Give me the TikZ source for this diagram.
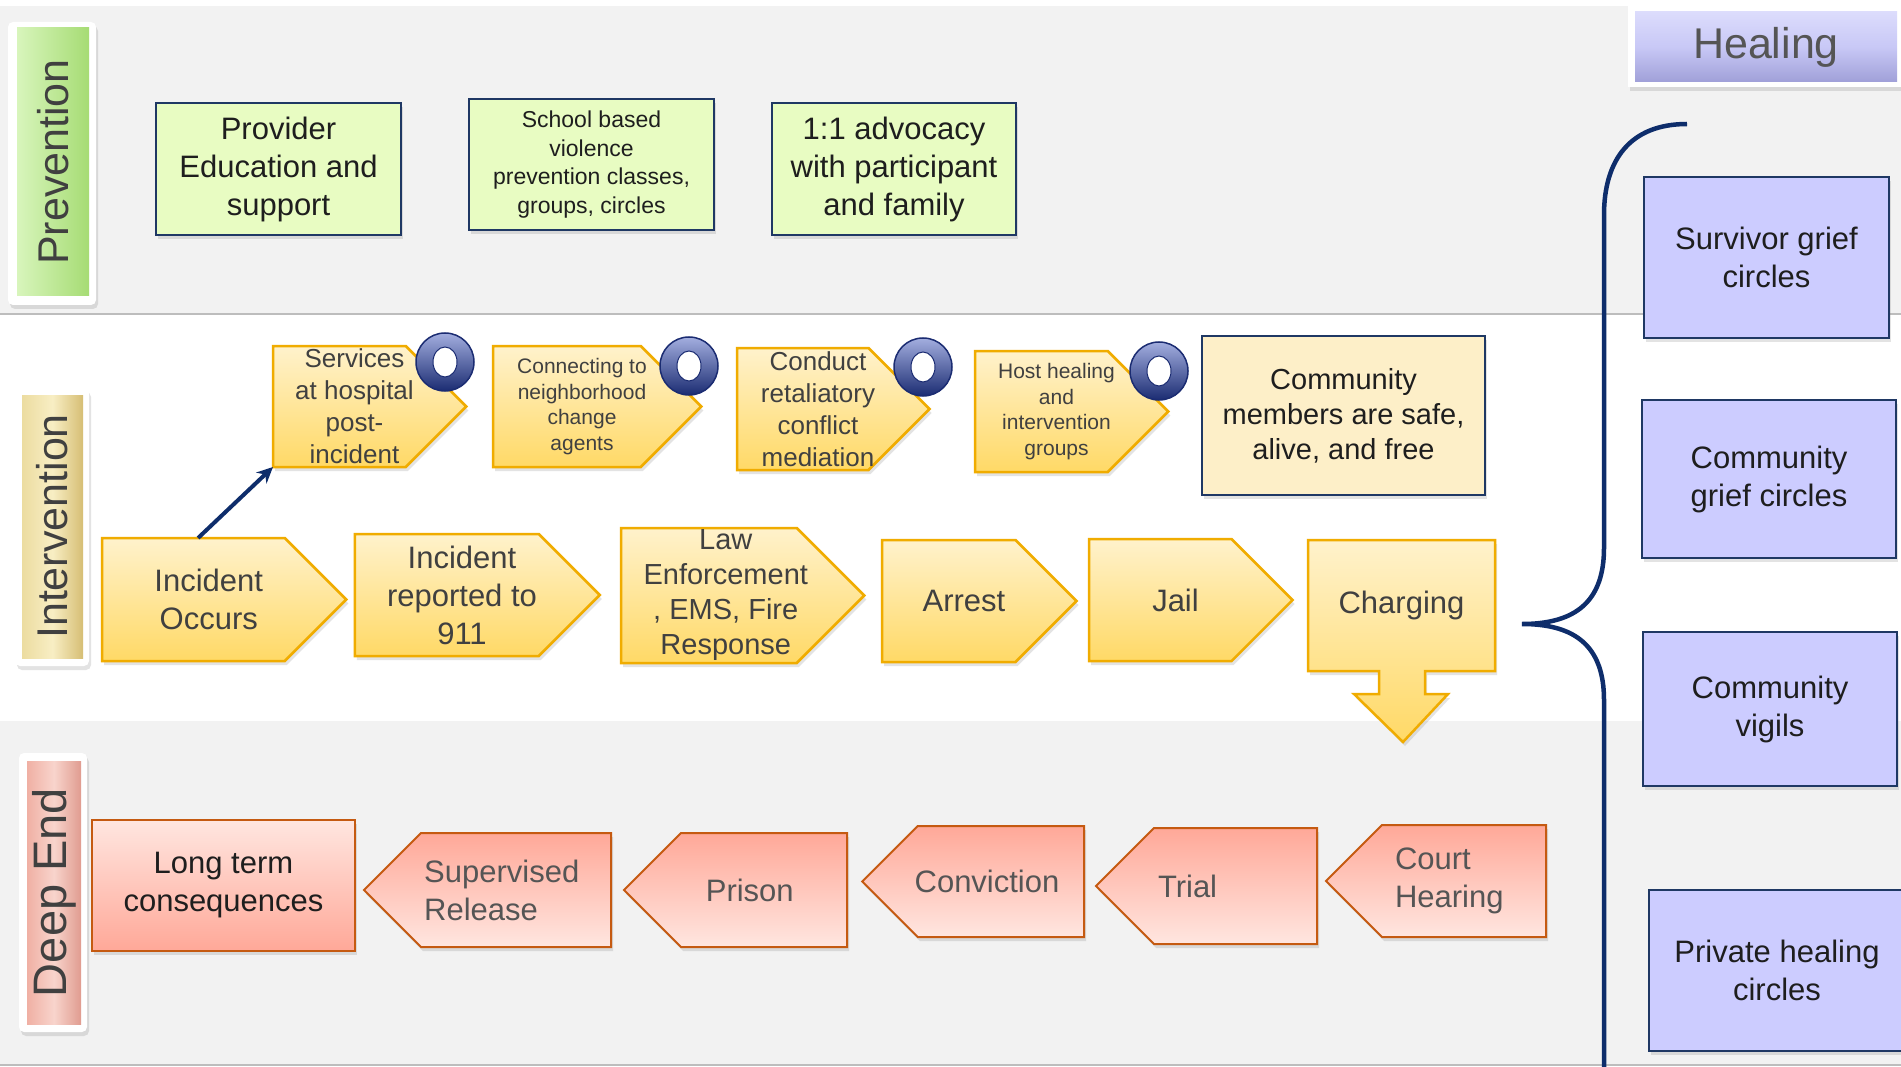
\documentclass[tikz,border=0pt]{standalone}
\usepackage{fontspec}
\setmainfont{Liberation Sans}
\usepackage{graphicx}
\usetikzlibrary{
    arrows.meta,
    positioning,
    calc,
    shadows
}
\pgfdeclarelayer{background}
\pgfsetlayers{background,main}

\definecolor{bandgray}{HTML}{F2F2F2}
\definecolor{bandline}{HTML}{BDBDBD}
\definecolor{navy}{HTML}{1F3864}
\definecolor{bracenavy}{HTML}{0E2D6B}
\definecolor{prevfill}{HTML}{E8FCC2}
\definecolor{healfill}{HTML}{CCCCFF}
\definecolor{commfill}{HTML}{FDEFC8}
\definecolor{ytop}{HTML}{FFF2CC}
\definecolor{ybot}{HTML}{FFD966}
\definecolor{yline}{HTML}{F0AC00}
\definecolor{rtop}{HTML}{FFA898}
\definecolor{rbot}{HTML}{FFE6E0}
\definecolor{rline}{HTML}{C55A11}
\definecolor{ringtop}{HTML}{A3AEDF}
\definecolor{ringbot}{HTML}{1B2C72}
\definecolor{txtdark}{HTML}{1E1E1E}
\definecolor{txtgray}{HTML}{404040}
\definecolor{txtmid}{HTML}{555555}
\definecolor{prevleft}{HTML}{D8F5BC}
\definecolor{prevright}{HTML}{A6DC74}
\definecolor{intleft}{HTML}{ECDCA0}
\definecolor{intmid}{HTML}{F8EEC4}
\definecolor{intright}{HTML}{D6BE74}
\definecolor{deepleft}{HTML}{F0B0A4}
\definecolor{deepmid}{HTML}{F8D4CC}
\definecolor{deepright}{HTML}{E09C90}
\definecolor{healtop}{HTML}{DCDCFC}
\definecolor{healmid}{HTML}{C8C8F6}
\definecolor{healbot}{HTML}{A0A0D8}

\newcommand{\bigtxt}{\fontsize{31}{38}\selectfont}
\newcommand{\lawtxt}{\fontsize{29}{35}\selectfont}
\newcommand{\medtxt}{\fontsize{26}{32}\selectfont}
\newcommand{\schooltxt}{\fontsize{23}{28.5}\selectfont}
\newcommand{\smalltxt}{\fontsize{21}{25.5}\selectfont}
\newcommand{\lanetxt}{\fontsize{43}{43}\selectfont}

% pentagon behind a text node, point on the right / on the left
\newcommand{\stepright}[1]{%
  \begin{pgfonlayer}{background}
    \path[ypent] let \p1=($(#1.north)-(#1.south)$), \n1={0.25*\y1} in
      (#1.north west) -- ($(#1.north east)-(\n1,0)$) -- ($(#1.east)+(\n1,0)$)
      -- ($(#1.south east)-(\n1,0)$) -- (#1.south west) -- cycle;
  \end{pgfonlayer}}
\newcommand{\stepleft}[1]{%
  \begin{pgfonlayer}{background}
    \path[rpent] let \p1=($(#1.north)-(#1.south)$), \n1={0.25*\y1} in
      (#1.north east) -- ($(#1.north west)+(\n1,0)$) -- ($(#1.west)-(\n1,0)$)
      -- ($(#1.south west)+(\n1,0)$) -- (#1.south east) -- cycle;
  \end{pgfonlayer}}

\begin{document}
\begin{tikzpicture}[
        x=1pt, y=-1pt,
        boxshadow/.style={drop shadow={opacity=0.22, shadow xshift=2pt, shadow yshift=-4pt}},
        laneframe/.style={fill=white, rounded corners=5, inner sep=0, outer sep=0, boxshadow},
        lanebar/.style={inner sep=0, outer sep=0, text=txtgray},
        prevbox/.style={draw=navy, line width=2.5, fill=prevfill, align=center, text=txtdark, inner sep=0, boxshadow},
        healbox/.style={draw=navy, line width=2.5, fill=healfill, align=center, text=txtdark, inner sep=0, font=\bigtxt, boxshadow},
        ypent/.style={draw=yline, line width=2.5, top color=ytop, bottom color=ybot, boxshadow},
        rpent/.style={draw=rline, line width=2, top color=rtop, bottom color=rbot, boxshadow},
        ytext/.style={align=center, text=txtgray, inner sep=0, outer sep=0},
        rtext/.style={align=left, text=txtmid, inner sep=0, outer sep=0, font=\bigtxt},
        ringmark/.style={circle, minimum size=58, inner sep=0, draw=ringbot, line width=1.5,
            top color=ringtop, bottom color=ringbot,
            path picture={\draw[ringbot, fill=white, line width=1] (path picture bounding box.center) ellipse [x radius=12, y radius=15];}},
        navyarrow/.style={-{Stealth[length=16pt, width=15pt]}, line width=4, draw=bracenavy},
        bracepath/.style={line width=4.5, draw=bracenavy}
    ]
    \useasboundingbox (0,0) rectangle (1901,1067);

    % Bands
    \begin{pgfonlayer}{background}
        \fill[white] (0,0) rectangle (1901,1067);
        \fill[bandgray] (0,6) rectangle (1901,313);
        \fill[bandgray] (0,721) rectangle (1901,1064);
        \draw[bandline, line width=2] (0,314) -- (1901,314);
        \draw[bandline, line width=2] (0,1065) -- (1901,1065);
    \end{pgfonlayer}

    % Lane labels
    \node[laneframe, minimum width=88, minimum height=283] (prevframe) at (52,163.5) {};
    \node[lanebar, minimum width=72, minimum height=268, left color=prevleft, right color=prevright] (prevlane) at (53,162) {\rotatebox{90}{\lanetxt Prevention}};
    \node[laneframe, minimum width=74, minimum height=278] (intframe) at (52,527) {};
    \node[lanebar, minimum width=61, minimum height=263, left color=intleft, right color=intright, middle color=intmid] (intlane) at (52.5,526.5) {\rotatebox{90}{\lanetxt Intervention}};
    \node[laneframe, minimum width=68, minimum height=279] (deepframe) at (53,892.5) {};
    \node[lanebar, minimum width=54, minimum height=263, left color=deepleft, right color=deepright, middle color=deepmid] (deeplane) at (54,892.5) {\rotatebox{90}{\fontsize{47}{47}\selectfont Deep End}};

    % Prevention
    \node[prevbox, minimum width=245, minimum height=132, font=\bigtxt] (provider) at (278.5,169) {Provider\\Education and\\support};
    \node[prevbox, minimum width=245, minimum height=131, font=\schooltxt] (school) at (591.5,164.5) {School based\\violence\\prevention classes,\\groups, circles};
    \node[prevbox, minimum width=244, minimum height=132, font=\bigtxt] (advocacy) at (894,169) {1:1 advocacy\\with participant\\and family};

    % Intervention, services
    \node[ytext, minimum width=163, minimum height=121, font=\medtxt] (services) at (354.5,406.5) {Services\\at hospital\\post-\\incident};
    \stepright{services}
    \node[ytext, minimum width=178, minimum height=121, font=\smalltxt] (connect) at (582,406.5) {Connecting to\\neighborhood\\change\\agents};
    \stepright{connect}
    \node[ytext, minimum width=162, minimum height=122, font=\medtxt] (conduct) at (818,409) {Conduct\\retaliatory\\conflict\\mediation};
    \stepright{conduct}
    \node[ytext, minimum width=163, minimum height=121, font=\smalltxt] (host) at (1056.5,411.5) {Host healing\\and\\intervention\\groups};
    \stepright{host}
    \node[draw=navy, line width=2.5, fill=commfill, align=center, text=txtdark, inner sep=0, minimum width=283, minimum height=159, font=\lawtxt, boxshadow] (safe) at (1343.5,415.5) {Community\\members are safe,\\alive, and free};

    % Rings
    \node[ringmark] (ring1) at (445,362) {};
    \node[ringmark] (ring2) at (689,366) {};
    \node[ringmark] (ring3) at (923,367) {};
    \node[ringmark] (ring4) at (1159,371) {};

    % Intervention, system steps
    \node[ytext, minimum width=213.5, minimum height=123, font=\bigtxt] (occurs) at (208.75,599.5) {Incident\\Occurs};
    \stepright{occurs}
    \node[ytext, minimum width=214.5, minimum height=122, font=\bigtxt] (reported) at (462,595) {Incident\\reported to\\911};
    \stepright{reported}
    \node[ytext, minimum width=209.5, minimum height=135, font=\lawtxt] (law) at (725.75,595.5) {Law\\Enforcement\\, EMS, Fire\\Response};
    \stepright{law}
    \node[ytext, minimum width=164, minimum height=122, font=\bigtxt] (arrest) at (964,601) {Arrest};
    \stepright{arrest}
    \node[ytext, minimum width=173, minimum height=122, font=\bigtxt] (jail) at (1175.5,600) {Jail};
    \stepright{jail}
    \node[ytext, minimum width=187, minimum height=131, font=\bigtxt] (charging) at (1401.5,605.5) {Charging};
    \begin{pgfonlayer}{background}
        \path[ypent] (charging.north west) -- (charging.north east) -- (charging.south east)
            -- ++(-70,0) -- ++(0,23) -- ++(23,0) -- ++(-45,48) -- ++(-49,-48) -- ++(25,0) -- ++(0,-23)
            -- (charging.south west) -- cycle;
    \end{pgfonlayer}

    \draw[navyarrow] ($(occurs.north west)!0.45!(occurs.north east)$) -- (services.south west);

    % Deep end
    \node[draw=rline, line width=2, top color=rbot, bottom color=rtop, align=center, text=txtdark, inner sep=0, minimum width=263, minimum height=131, font=\bigtxt, boxshadow] (longterm) at (223.5,885.5) {Long term\\consequences};
    \node[rtext, minimum width=218.5, minimum height=114] (release) at (501.75,890) {Supervised\\Release};
    \stepleft{release}
    \node[rtext, minimum width=194.5, minimum height=114] (prison) at (749.75,890) {Prison};
    \stepleft{prison}
    \node[rtext, minimum width=194, minimum height=111] (conviction) at (987,881.5) {Conviction};
    \stepleft{conviction}
    \node[rtext, minimum width=192, minimum height=116, text width=126] (trial) at (1221,886) {Trial};
    \stepleft{trial}
    \node[rtext, minimum width=192, minimum height=112, text width=110] (court) at (1450,881) {Court\\Hearing};
    \stepleft{court}

    % Healing
    \node[fill=white, inner sep=0, minimum width=282, minimum height=81, boxshadow] (healframe) at (1769,46.5) {};
    \node[inner sep=0, minimum width=262, minimum height=70, top color=healtop, bottom color=healbot, middle color=healmid, text=txtmid, font=\lanetxt] (healing) at (1766,47) {Healing};
    \draw[bracepath] (1687,124) .. controls (1630,124) and (1604,160) .. (1604,215)
        -- (1604,548) .. controls (1604,602) and (1575,624) .. (1522,624)
        .. controls (1575,624) and (1604,646) .. (1604,700) -- (1604,1080);
    \node[healbox, minimum width=245, minimum height=161] (survivor) at (1766.5,257.5) {Survivor grief\\circles};
    \node[healbox, minimum width=254, minimum height=158] (griefcircles) at (1769,479) {Community\\grief circles};
    \node[healbox, minimum width=254, minimum height=154] (vigils) at (1770,709) {Community\\vigils};
    \node[healbox, minimum width=256, minimum height=161] (private) at (1777,970.5) {Private healing\\circles};
\end{tikzpicture}
\end{document}
